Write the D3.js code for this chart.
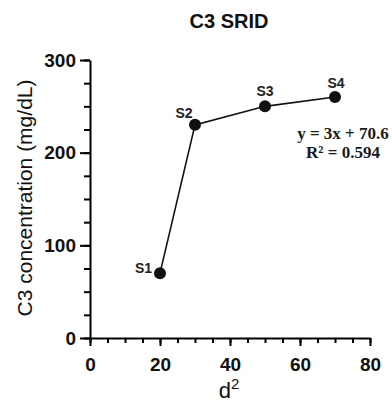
<!DOCTYPE html>
<html>
<head>
<meta charset="utf-8">
<script src="https://cdn.jsdelivr.net/npm/d3@7"></script>
<style>
  body { margin: 0; background: #fff; }
  svg { display: block; font-family: "Liberation Sans", Arial, sans-serif; }
</style>
</head>
<body>
<script>
const samples = ["S1", "S2", "S3", "S4"];
const dSquared = [20, 30, 50, 70];
const c3Conc = [70, 230, 250, 260];
const xTicks = [0, 20, 40, 60, 80];
const yTicks = [0, 100, 200, 300];
const fitLines = ["y = 3x + 70.6", "R² = 0.594"];

const width = 392, height = 408;
const margin = {top: 60, right: 22, bottom: 70, left: 90};

const svg = d3.select("body").append("svg")
    .attr("width", width)
    .attr("height", height);

const x = d3.scaleLinear().domain([0, 80]).range([margin.left, width - margin.right]);
const y = d3.scaleLinear().domain([0, 300]).range([height - margin.bottom, margin.top]);

const data = samples.map((s, i) => ({name: s, x: dSquared[i], y: c3Conc[i]}));

// minor ticks
svg.append("g")
    .attr("transform", `translate(0,${y(0)})`)
    .call(d3.axisBottom(x).tickValues(d3.range(0, 81, 5)).tickSize(5).tickFormat(""))
    .call(g => g.select(".domain").remove())
    .selectAll("line").attr("stroke-width", 2);

svg.append("g")
    .attr("transform", `translate(${x(0)},0)`)
    .call(d3.axisLeft(y).tickValues(d3.range(0, 301, 25)).tickSize(6).tickFormat(""))
    .call(g => g.select(".domain").remove())
    .selectAll("line").attr("stroke-width", 2);

// major axes
svg.append("g")
    .attr("transform", `translate(0,${y(0)})`)
    .call(d3.axisBottom(x).tickValues(xTicks).tickSize(8).tickSizeOuter(0).tickPadding(12))
    .call(g => g.selectAll("path, line").attr("stroke-width", 2))
    .call(g => g.selectAll("text").attr("font-size", 19).attr("font-weight", "bold").attr("fill", "#111"));

svg.append("g")
    .attr("transform", `translate(${x(0)},0)`)
    .call(d3.axisLeft(y).tickValues(yTicks).tickSize(10).tickSizeOuter(0).tickPadding(4))
    .call(g => g.selectAll("path, line").attr("stroke-width", 2))
    .call(g => g.selectAll("text").attr("font-size", 19).attr("font-weight", "bold").attr("fill", "#111"));

// data line + points
svg.append("path")
    .datum(data)
    .attr("fill", "none")
    .attr("stroke", "#111")
    .attr("stroke-width", 1.6)
    .attr("d", d3.line().x(d => x(d.x)).y(d => y(d.y)));

svg.selectAll("circle")
    .data(data)
    .join("circle")
    .attr("cx", d => x(d.x))
    .attr("cy", d => y(d.y))
    .attr("r", 6)
    .attr("fill", "#111");

// point labels: dx, dy, anchor
const labelOffsets = {S1: [-8, 0, "end"], S2: [-11, -7, "middle"], S3: [0, -10, "middle"], S4: [1, -9, "middle"]};
svg.selectAll("text.pt")
    .data(data)
    .join("text")
    .attr("class", "pt")
    .attr("x", d => x(d.x) + labelOffsets[d.name][0])
    .attr("y", d => y(d.y) + labelOffsets[d.name][1])
    .attr("text-anchor", d => labelOffsets[d.name][2])
    .attr("font-size", 14)
    .attr("font-weight", "bold")
    .attr("fill", "#222")
    .text(d => d.name);

// fit equation
svg.append("g")
    .selectAll("text")
    .data(fitLines)
    .join("text")
    .attr("x", 343)
    .attr("y", (d, i) => 139 + i * 19)
    .attr("text-anchor", "middle")
    .attr("font-family", "'Liberation Serif', 'Times New Roman', serif")
    .attr("font-size", 17)
    .attr("font-weight", "bold")
    .attr("fill", "#1a1a1a")
    .text(d => d);

// titles
svg.append("text")
    .attr("x", 229)
    .attr("y", 28)
    .attr("text-anchor", "middle")
    .attr("font-size", 20)
    .attr("font-weight", "bold")
    .attr("fill", "#111")
    .text("C3 SRID");

svg.append("text")
    .attr("transform", `translate(32,198) rotate(-90)`)
    .attr("text-anchor", "middle")
    .attr("font-size", 21)
    .attr("fill", "#111")
    .text("C3 concentration (mg/dL)");

const xTitle = svg.append("text")
    .attr("x", 229)
    .attr("y", 398)
    .attr("text-anchor", "middle")
    .attr("font-size", 22)
    .attr("fill", "#111");
xTitle.append("tspan").text("d");
xTitle.append("tspan").attr("dy", -9).attr("font-size", 15).text("2");
</script>
</body>
</html>
